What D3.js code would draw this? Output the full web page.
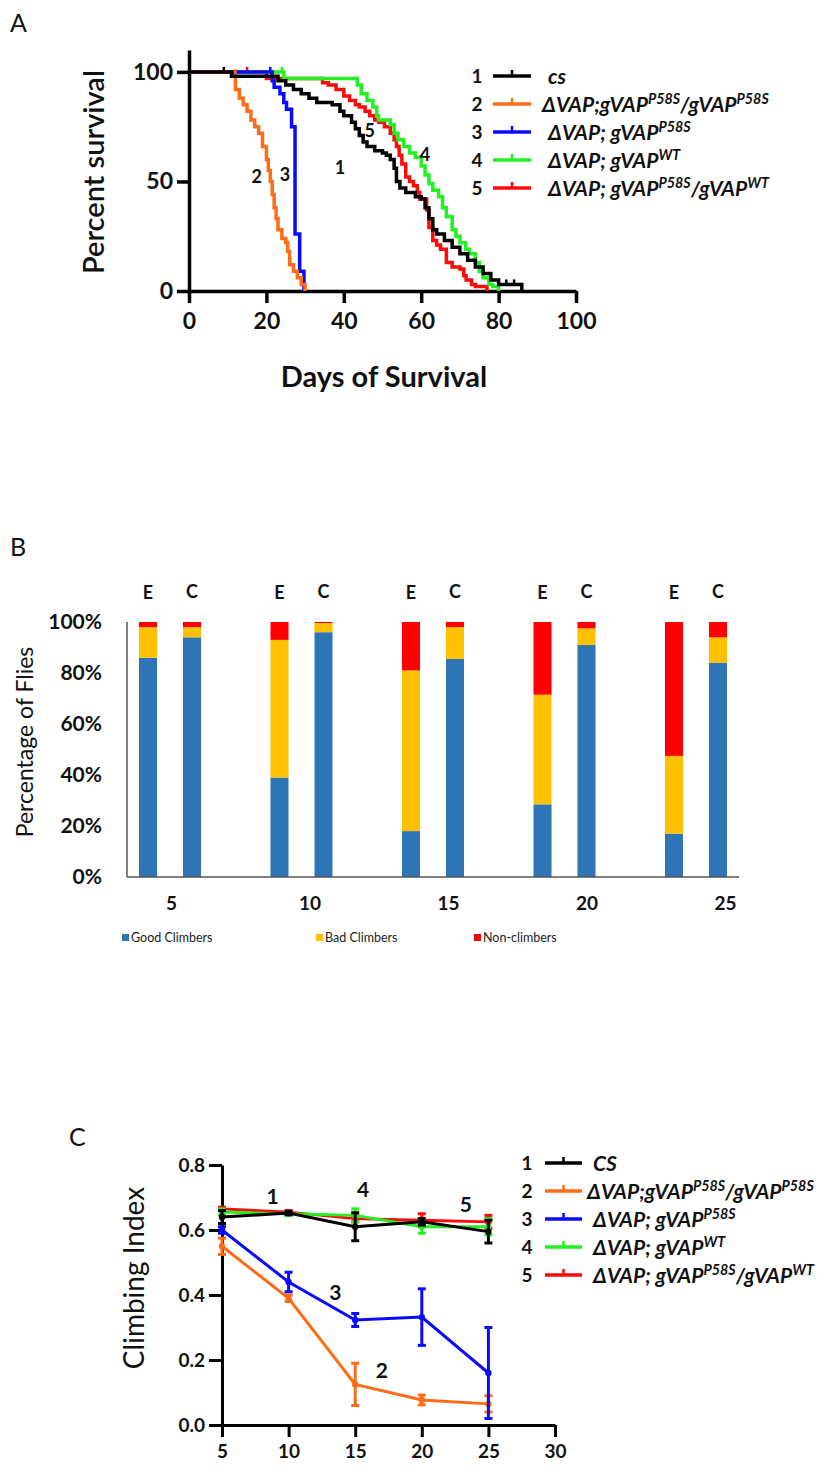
<!DOCTYPE html>
<html>
<head>
<meta charset="utf-8">
<script src="https://cdn.jsdelivr.net/npm/d3@7"></script>
<style>
body { margin: 0; background: #fff; }
svg text { font-family: Lato, "Open Sans", sans-serif; }
</style>
</head>
<body>
<div id="fig"></div>
<script>
// ---- panel A: survival curves, [day, percent] ----
var survCS = [[0,100],[9,100],[11,98],[23,96],[25,94],[27,92],[29,90],[31,88],[33,86],[37,85],[39,82],[40,80],[42,77],[43,74],[44,71],[45,68],[46,66],[48,64],[50,63],[51,62],[52,60],[53,56],[53.6,50],[54.5,47],[56,45],[58.5,43],[60,42],[61,38],[62,33],[63,28],[64,26],[66,23],[68,20],[70,17],[72,14],[74,11],[76,8],[78,5],[80,3],[86,0]];
var survHomo = [[0,100],[11,98],[12,92],[13,88],[14,85],[15,82],[16,78],[17,75],[18,72],[19,66],[20,60],[20.5,55],[21,50],[21.5,44],[22,38],[22.5,33],[23,28],[24,24],[25,22],[25.5,18],[26,12],[27,9],[28,6],[29,3],[30,0]];
var survP58S = [[0,100],[21.5,96],[22,93],[23.5,90],[24.5,86],[25.2,83],[26.5,75],[27.4,26],[28.6,9],[29.7,0]];
var survWT = [[0,100],[24.5,97],[43.5,94],[44.5,90],[46,87],[47.5,84],[48.5,80],[49,78],[52,76],[53,72],[54,69],[55.5,66],[57,63],[58.5,61],[60,57],[61,53],[62,49],[63,46],[64.5,43],[65.5,38],[66.5,34],[68,28],[69,25],[70,22],[71.5,19],[72.5,17],[74,13],[75,9],[76,6],[77.5,3],[78.5,2],[80,0]];
var survHet = [[0,100],[20,97],[34.5,95],[36,94],[38,92],[40,89],[41.5,87],[43,85],[44,84],[45.5,82],[46.7,80],[48,78],[49,77],[50.5,75],[52,72],[53,69],[53.6,66],[54.3,62],[55,58],[56,52],[57,50],[58,48],[59,45],[59.6,42],[61.4,37],[62,29],[63,23],[64,21],[65,19],[66.5,13],[68,11],[70,10],[71,7],[71.6,5],[73,3],[74,2],[77,0]];
var censCS = [[9,100],[82,3],[84,3]];
var censHomo = [[12,99]];
var censP58S = [[21,100]];
var censWT = [[24,100]];
var censHet = [[15,100]];
var survTicksX = [0,20,40,60,80,100];
var survTicksY = [0,50,100];
// curve number labels placed in data units [day, percent]
var survNumPos = [[39,56],[17.5,52],[24.8,53],[61,62],[46.7,73]];

// ---- panel B: climbing categories (%) ----
var climbGroupDays = [5,10,15,20,25];
var climbSides = ['E','C'];
var goodClimbers = [86,94,39,96,18,85.5,28.5,91,17,84];
var badClimbers = [12,4,54,3.6,63,12.5,43,6.5,30.5,10];
var nonClimbers = [2,2,7,0.4,19,2,28.5,2.5,52.5,6];
var pctTicks = [0,20,40,60,80,100];
var climbCatNames = ['Good Climbers','Bad Climbers','Non-climbers'];

// ---- panel C: climbing index ----
var ciDays = [5,10,15,20,25];
var ciCS = [0.64,0.652,0.61,0.625,0.595];
var ciCSErr = [0.02,0.005,0.043,0.01,0.035];
var ciHomo = [0.55,0.39,0.125,0.077,0.065];
var ciHomoErr = [0.025,0.01,0.065,0.015,0.025];
var ciP58S = [0.60,0.44,0.323,0.332,0.16];
var ciP58SErr = [0.01,0.03,0.02,0.087,0.14];
var ciWT = [0.655,0.65,0.645,0.61,0.61];
var ciWTErr = [0.01,0.005,0.02,0.02,0.025];
var ciHet = [0.665,0.655,0.635,0.63,0.625];
var ciHetErr = [0.005,0.005,0.01,0.02,0.02];
var ciTicksX = [5,10,15,20,25,30];
var ciTicksY = [0,0.2,0.4,0.6,0.8];
var ciNumPos = [[8.8,0.705],[17,0.17],[13.5,0.41],[15.6,0.725],[23.3,0.68]];

var seriesNums = ['1','2','3','4','5'];
var seriesColors = ['#000000','#ff6c17','#0a0aff','#22f022','#ff0a0a'];
var barColors = ['#2e75b6','#ffc000','#ff0000'];

// legend names as [text, superscript?] pieces
var namesA = [
  [['cs',0]],
  [['ΔVAP;gVAP',0],['P58S',1],['/gVAP',0],['P58S',1]],
  [['ΔVAP; gVAP',0],['P58S',1]],
  [['ΔVAP; gVAP',0],['WT',1]],
  [['ΔVAP; gVAP',0],['P58S',1],['/gVAP',0],['WT',1]]
];
var namesC = [[['CS',0]]].concat(namesA.slice(1));

var svg = d3.select('#fig').append('svg')
  .attr('width', 833)
  .attr('height', 1475);

function panelLetter(txt, x, y) {
  svg.append('text').attr('x', x).attr('y', y)
    .attr('font-size', 25).attr('fill', '#111').text(txt);
}

function styleAxis(g, w) {
  g.selectAll('path,line').attr('stroke', '#000').attr('stroke-width', w);
  g.selectAll('text').attr('fill', '#111').attr('font-weight', 'bold');
}

function writeName(sel, pieces, size) {
  pieces.forEach(function(p) {
    if (p[1]) {
      sel.append('tspan').attr('font-size', size * 0.68).attr('dy', -size * 0.38).text(p[0]);
      sel.append('tspan').attr('font-size', 1).attr('dy', size * 0.38).text(' ');
    } else {
      sel.append('tspan').attr('font-size', size).text(p[0]);
    }
  });
}

function legend(x0, y0, names, lineX1, lineX2, textX, size) {
  var g = svg.append('g');
  names.forEach(function(nm, i) {
    var y = y0 + i * 28;
    g.append('text').attr('x', x0).attr('y', y + 7).attr('text-anchor', 'middle')
      .attr('font-size', 19).attr('font-weight', 'bold').attr('fill', '#111').text(seriesNums[i]);
    g.append('line').attr('x1', lineX1).attr('x2', lineX2).attr('y1', y).attr('y2', y)
      .attr('stroke', seriesColors[i]).attr('stroke-width', 3.5);
    var mid = (lineX1 + lineX2) / 2;
    g.append('line').attr('x1', mid).attr('x2', mid).attr('y1', y).attr('y2', y - 6)
      .attr('stroke', seriesColors[i]).attr('stroke-width', 2.5);
    var t = g.append('text').attr('x', textX - (i === 1 ? 6 : 0)).attr('y', y + 8)
      .attr('font-weight', 'bold').attr('font-style', 'italic').attr('fill', '#111');
    writeName(t, nm, size);
  });
}

// =================== A ===================
panelLetter('A', 10, 32);
var xA = d3.scaleLinear().domain([0, 100]).range([189, 576]);
var yA = d3.scaleLinear().domain([0, 110]).range([291, 50]);

var axA1 = svg.append('g').attr('transform', 'translate(0,291)')
  .call(d3.axisBottom(xA).tickValues(survTicksX).tickSize(12).tickSizeOuter(0).tickPadding(10));
axA1.selectAll('text').attr('font-size', 23);
styleAxis(axA1, 3.5);
var axA2 = svg.append('g').attr('transform', 'translate(189,0)')
  .call(d3.axisLeft(yA).tickValues(survTicksY).tickSize(12).tickSizeOuter(0).tickPadding(4));
axA2.selectAll('text').attr('font-size', 23);
styleAxis(axA2, 3.5);

svg.append('text').attr('x', 384).attr('y', 387).attr('text-anchor', 'middle')
  .attr('font-size', 29).attr('font-weight', 'bold').attr('fill', '#111').text('Days of Survival');
svg.append('text').attr('transform', 'translate(104,172) rotate(-90)').attr('text-anchor', 'middle')
  .attr('font-size', 29).attr('font-weight', 600).attr('fill', '#111').text('Percent survival');

var survAll = [survCS, survHomo, survP58S, survWT, survHet];
var censAll = [censCS, censHomo, censP58S, censWT, censHet];
var stepLine = d3.line().curve(d3.curveStepAfter)
  .x(function(d) { return xA(d[0]); })
  .y(function(d) { return yA(d[1]); });
[4, 3, 2, 1, 0].forEach(function(i) {
  svg.append('path').datum(survAll[i]).attr('d', stepLine)
    .attr('fill', 'none').attr('stroke', seriesColors[i]).attr('stroke-width', 3.5);
  svg.selectAll(null).data(censAll[i]).enter().append('line')
    .attr('x1', function(d) { return xA(d[0]); }).attr('x2', function(d) { return xA(d[0]); })
    .attr('y1', function(d) { return yA(d[1]) + 1; }).attr('y2', function(d) { return yA(d[1]) - 5; })
    .attr('stroke', seriesColors[i]).attr('stroke-width', 2.5);
});
svg.selectAll('text.survNum').data(survNumPos).enter().append('text')
  .attr('class', 'survNum')
  .attr('x', function(d) { return xA(d[0]); })
  .attr('y', function(d) { return yA(d[1]) + 6; })
  .attr('text-anchor', 'middle').attr('font-size', 18).attr('font-weight', 'bold').attr('fill', '#111')
  .text(function(d, i) { return seriesNums[i]; });

legend(477, 76, namesA, 493, 531, 548, 21);

// =================== B ===================
panelLetter('B', 10, 556);
var x0B = d3.scaleBand().domain(climbGroupDays).range([104.25, 761.75]);
var x1B = d3.scaleBand().domain(climbSides).range([0, x0B.bandwidth()]).paddingInner(0.59).paddingOuter(0.79);
var yB = d3.scaleLinear().domain([0, 100]).range([877, 622]);

var barRows = [];
climbGroupDays.forEach(function(day, gi) {
  climbSides.forEach(function(side, si) {
    var k = gi * 2 + si;
    barRows.push({day: day, side: side, vals: [goodClimbers[k], badClimbers[k], nonClimbers[k]]});
  });
});

var axB = svg.append('g').attr('transform', 'translate(127,0)')
  .call(d3.axisLeft(yB).tickValues(pctTicks).tickSize(0).tickPadding(25)
    .tickFormat(function(d) { return d + '%'; }));
axB.select('.domain').remove();
axB.selectAll('text').attr('font-size', 21).attr('font-weight', 'bold').attr('fill', '#111');

barRows.forEach(function(r) {
  var stack = 0;
  r.vals.forEach(function(v, ci) {
    svg.append('rect')
      .attr('x', x0B(r.day) + x1B(r.side))
      .attr('width', x1B.bandwidth())
      .attr('y', yB(stack + v))
      .attr('height', yB(stack) - yB(stack + v))
      .attr('fill', barColors[ci]);
    stack += v;
  });
  svg.append('text')
    .attr('x', x0B(r.day) + x1B(r.side) + x1B.bandwidth() / 2)
    .attr('y', 598 + (r.side === 'E' ? 1 : 0))
    .attr('text-anchor', 'middle').attr('font-size', 18).attr('font-weight', 'bold').attr('fill', '#111')
    .text(r.side);
});

svg.append('line').attr('x1', 127).attr('x2', 127).attr('y1', yB(100)).attr('y2', yB(0))
  .attr('stroke', '#555').attr('stroke-width', 1.5);
svg.append('line').attr('x1', 127).attr('x2', 739).attr('y1', yB(0)).attr('y2', yB(0))
  .attr('stroke', '#555').attr('stroke-width', 1.5);

var dayLabelB = d3.scaleLinear().domain([5, 25]).range([171, 725]);
var axB2 = svg.append('g').attr('transform', 'translate(0,896)')
  .call(d3.axisBottom(dayLabelB).tickValues(climbGroupDays).tickSize(0).tickPadding(0));
axB2.select('.domain').remove();
axB2.selectAll('text').attr('font-size', 19).attr('font-weight', 'bold').attr('fill', '#111');

svg.append('text').attr('transform', 'translate(33,742) rotate(-90)').attr('text-anchor', 'middle')
  .attr('font-size', 23).attr('fill', '#111').text('Percentage of Flies');

var legB = [122, 316, 474];
climbCatNames.forEach(function(nm, i) {
  svg.append('rect').attr('x', legB[i]).attr('y', 934).attr('width', 7).attr('height', 7).attr('fill', barColors[i]);
  svg.append('text').attr('x', legB[i] + 9).attr('y', 942).attr('font-size', 12.5).attr('fill', '#222').text(nm);
});

// =================== C ===================
panelLetter('C', 69, 1146);
var xC = d3.scaleLinear().domain([5, 30]).range([222, 555]);
var yC = d3.scaleLinear().domain([0, 0.8]).range([1425, 1165]);

var axC1 = svg.append('g').attr('transform', 'translate(0,1425)')
  .call(d3.axisBottom(xC).tickValues(ciTicksX).tickSize(12).tickSizeOuter(0).tickPadding(8));
axC1.selectAll('text').attr('font-size', 19);
styleAxis(axC1, 3);
var axC2 = svg.append('g').attr('transform', 'translate(222,0)')
  .call(d3.axisLeft(yC).tickValues(ciTicksY).tickSize(13).tickSizeOuter(0).tickPadding(4)
    .tickFormat(d3.format('.1f')));
axC2.selectAll('text').attr('font-size', 19);
styleAxis(axC2, 3);

svg.append('text').attr('transform', 'translate(144,1278) rotate(-90)').attr('text-anchor', 'middle')
  .attr('font-size', 28).attr('fill', '#111').text('Climbing Index');

var ciAll = [ciCS, ciHomo, ciP58S, ciWT, ciHet];
var ciErrAll = [ciCSErr, ciHomoErr, ciP58SErr, ciWTErr, ciHetErr];
var ciLine = d3.line()
  .x(function(d) { return xC(d.day); })
  .y(function(d) { return yC(d.v); });
[1, 2, 4, 3, 0].forEach(function(i) {
  var pts = ciDays.map(function(day, k) { return {day: day, v: ciAll[i][k], e: ciErrAll[i][k]}; });
  var c = seriesColors[i];
  svg.append('path').datum(pts).attr('d', ciLine)
    .attr('fill', 'none').attr('stroke', c).attr('stroke-width', 3);
  var g = svg.append('g');
  pts.forEach(function(p) {
    var x = xC(p.day);
    g.append('line').attr('x1', x).attr('x2', x).attr('y1', yC(p.v - p.e)).attr('y2', yC(p.v + p.e))
      .attr('stroke', c).attr('stroke-width', 3);
    [p.v - p.e, p.v + p.e].forEach(function(v) {
      g.append('line').attr('x1', x - 4).attr('x2', x + 4).attr('y1', yC(v)).attr('y2', yC(v))
        .attr('stroke', c).attr('stroke-width', 3);
    });
    g.append('circle').attr('cx', x).attr('cy', yC(p.v)).attr('r', 3.2).attr('fill', c);
  });
});
svg.selectAll('text.ciNum').data(ciNumPos).enter().append('text')
  .attr('class', 'ciNum')
  .attr('x', function(d) { return xC(d[0]); })
  .attr('y', function(d) { return yC(d[1]) + 8; })
  .attr('text-anchor', 'middle').attr('font-size', 21).attr('font-weight', 'bold').attr('fill', '#111')
  .text(function(d, i) { return seriesNums[i]; });

legend(527, 1163, namesC, 545, 582, 593, 21);
</script>
</body>
</html>
